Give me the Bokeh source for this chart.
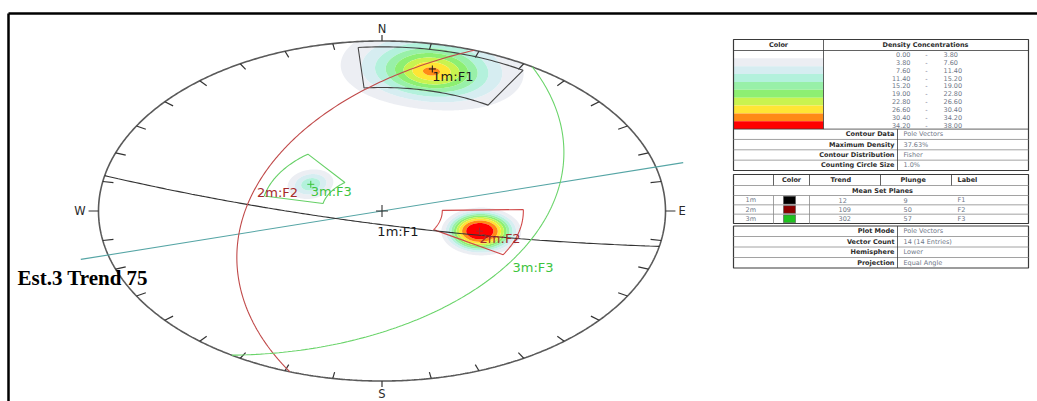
import numpy as np
from bokeh.plotting import figure
from bokeh.models import Range1d
from bokeh.embed import file_html
from bokeh.resources import INLINE
from bokeh.core.properties import value

# ---------------- data ----------------
set_names = ["1m", "2m", "3m"]
set_labels = ["F1", "F2", "F3"]
set_trend = [12, 109, 302]      # mean pole trend
set_plunge = [9, 50, 57]        # mean pole plunge

# set windows (trend range, plunge range)
window_trend = [[355, 31], [89, 121], [282, 322]]
window_plunge = [[2, 18], [37, 66], [44, 66]]

# contour bands (% of total per 1% area)
density_levels = [0.00, 3.80, 7.60, 11.40, 15.20, 19.00, 22.80, 26.60, 30.40, 34.20, 38.00]

# pole concentrations: centre, peak density, reach of the lowest contour (deg), profile shape
cluster_trend = [12, 109, 302]
cluster_plunge = [10, 50, 57]
cluster_peak = [32.0, 37.63, 14.5]
cluster_reach_t = [21.0, 14.0, 9.5]
cluster_reach_p = [16.5, 14.0, 8.0]
cluster_shape = [1.6, 3.0, 2.0]

section_trend = 75
title_text = "Est.3 Trend 75"
cardinals = ["N", "E", "S", "W"]
cardinal_az = [0, 90, 180, 270]

contour_keys = ["Contour Data", "Maximum Density", "Contour Distribution", "Counting Circle Size"]
contour_vals = ["Pole Vectors", "37.63%", "Fisher", "1.0%"]
plot_keys = ["Plot Mode", "Vector Count", "Hemisphere", "Projection"]
plot_vals = ["Pole Vectors", "14 (14 Entries)", "Lower", "Equal Angle"]

# ---------------- styles ----------------
band_colors = ["#ffffff", "#eceef3", "#d6edf1", "#b3f1dc", "#98f0a8",
               "#8def72", "#c9f34f", "#ffe534", "#ff8a16", "#ff0000"]
swatch_colors = ["#000000", "#8b0000", "#1fc21f"]
gc_colors = ["#333333", "#c04a4a", "#6ad46a"]
label_colors = ["#1a1a1a", "#a52a2a", "#3cc43c"]
window_colors = ["#444444", "#d04848", "#66d066"]
FONT = value("DejaVu Sans")

W, H = 1037, 401
CX, CY = 381.5, 210.5     # net centre (px)
RX, RY = 283.5, 170.0     # net radii (px)


def unit_vec(trend, plunge):
    t, p = np.radians(trend), np.radians(plunge)
    return np.array([np.cos(p) * np.sin(t), np.cos(p) * np.cos(t), -np.sin(p)])


def to_px(u, v):
    return CX + RX * np.asarray(u), CY - RY * np.asarray(v)


def proj(trend, plunge):
    t = np.radians(np.asarray(trend, dtype=float))
    p = np.radians(np.asarray(plunge, dtype=float))
    r = np.tan(np.pi / 4 - p / 2)
    return to_px(r * np.sin(t), r * np.cos(t))


def great_circle(trend, plunge, n=181):
    dd = np.radians(trend + 180.0)
    dip = np.radians(90.0 - plunge)
    s = np.array([np.sin(dd - np.pi / 2), np.cos(dd - np.pi / 2), 0.0])
    d = np.array([np.cos(dip) * np.sin(dd), np.cos(dip) * np.cos(dd), -np.sin(dip)])
    th = np.linspace(0, np.pi, n)
    v = np.outer(np.cos(th), s) + np.outer(np.sin(th), d)
    x, y = to_px(v[:, 0] / (1 - v[:, 2]), v[:, 1] / (1 - v[:, 2]))
    dx, dy = to_px(d[0] / (1 - d[2]), d[1] / (1 - d[2]))
    return x, y, float(dx), float(dy)


def window_outline(tr, pl, n=40):
    t1, t2 = tr
    if t2 < t1:
        t2 += 360
    ts = np.linspace(t1, t2, n)
    x1, y1 = proj(ts, np.full(n, pl[0]))
    x2, y2 = proj(ts[::-1], np.full(n, pl[1]))
    xs = np.concatenate([x1, x2, x1[:1]])
    ys = np.concatenate([y1, y2, y1[:1]])
    return xs, ys


p = figure(width=W, height=H, x_range=Range1d(0, W), y_range=Range1d(H, 0),
           output_backend="svg", toolbar_location=None, min_border=0,
           x_axis_location=None, y_axis_location=None)
p.grid.visible = False
p.outline_line_color = None
p.background_fill_color = "white"

# ---------------- density contours ----------------
g = np.linspace(-1, 1, 461)
U, V = np.meshgrid(g, g)
R2 = U ** 2 + V ** 2
den = 1 + R2
vx, vy, vz = 2 * U / den, 2 * V / den, -(1 - R2) / den
Z = np.zeros_like(U)
low = density_levels[1]
for tr, pl, pk, rt, rp, k in zip(cluster_trend, cluster_plunge, cluster_peak,
                                 cluster_reach_t, cluster_reach_p, cluster_shape):
    m = unit_vec(tr, pl)
    t, pr = np.radians(tr), np.radians(pl)
    et = np.array([np.cos(t), -np.sin(t), 0.0])
    ep = np.array([-np.sin(pr) * np.sin(t), -np.sin(pr) * np.cos(t), -np.cos(pr)])
    c = vx * m[0] + vy * m[1] + vz * m[2]
    at = vx * et[0] + vy * et[1] + vz * et[2]
    ap = vx * ep[0] + vy * ep[1] + vz * ep[2]
    q = np.sqrt((at / np.radians(rt)) ** 2 + (ap / np.radians(rp)) ** 2)
    dens = pk * np.exp(-np.log(pk / low) * q ** k)
    Z += np.where(c > 0, dens, 0.0)
Z[R2 > 1] = 0.0
GX, GY = to_px(U, V)
p.contour(GX, GY, Z, levels=density_levels[1:], fill_color=band_colors[1:], line_color=None)

# ---------------- net outline & ticks ----------------
az = np.linspace(0, 2 * np.pi, 721)
ox, oy = to_px(np.sin(az), np.cos(az))
p.line(ox, oy, line_color="#5a5a5a", line_width=1.6)

tick_deg = np.arange(0, 360, 10)
tick_az = np.radians(tick_deg)
is_card = (tick_deg % 90) == 0
r_out = np.where(is_card, 1.035, 0.962)
tx0, ty0 = to_px(np.sin(tick_az), np.cos(tick_az))
tx1, ty1 = to_px(r_out * np.sin(tick_az), r_out * np.cos(tick_az))
p.segment(tx0, ty0, tx1, ty1, line_color="#333333", line_width=1.2)

# cardinal labels
ca = np.radians(cardinal_az)
lx, ly = to_px(1.035 * np.sin(ca), 1.035 * np.cos(ca))
offs = [(0, 1, "center", "bottom"), (3, 0, "left", "middle"),
        (0, 0, "center", "top"), (-3, 0, "right", "middle")]
for lab, x0, y0, (dx, dy, al, bl) in zip(cardinals, lx, ly, offs):
    p.text([x0 + dx], [y0 + dy], text=[lab], text_font=FONT, text_font_size="11.5px",
           text_color="#2a2a2a", text_align=al, text_baseline=bl)

# section line along trend
st_r = np.radians(section_trend)
sx, sy = to_px([-1.1 * np.sin(st_r), 1.1 * np.sin(st_r)], [-1.1 * np.cos(st_r), 1.1 * np.cos(st_r)])
p.line(sx, sy, line_color="#55a5a5", line_width=1.1)

# centre cross
p.scatter([CX], [CY], marker="cross", size=12, line_color="#333333", line_width=1.1)

# ---------------- windows, great circles, poles ----------------
for i in range(3):
    wx, wy = window_outline(window_trend[i], window_plunge[i])
    p.line(wx, wy, line_color=window_colors[i], line_width=1.1)

for i in range(3):
    gx, gy, dx, dy = great_circle(set_trend[i], set_plunge[i])
    p.line(gx, gy, line_color=gc_colors[i], line_width=1.1)
    p.text([dx], [dy], text=[f"{set_names[i]}:{set_labels[i]}"], text_font=FONT,
           text_font_size="13px", text_color=label_colors[i], text_align="left",
           text_baseline="top")

px_, py_ = proj(set_trend, set_plunge)
for i in range(3):
    p.scatter([px_[i]], [py_[i]], marker="cross", size=7, line_color=label_colors[i], line_width=1)
    p.text([px_[i]], [py_[i]], text=[f"{set_names[i]}:{set_labels[i]}"], text_font=FONT,
           text_font_size="13px", text_color=label_colors[i], text_align="left",
           text_baseline="top")

# title
p.text([17], [277.5], text=[title_text], text_font=value("Liberation Serif"),
       text_font_size="21px", text_font_style="bold", text_color="#000000",
       text_baseline="alphabetic")

# page frame
p.segment([8, 8], [13, 13], [8, W], [H, 13], line_color="#000000", line_width=2.5)

# ---------------- legend tables ----------------
TL, TR = 733, 1028
SM = "6.5px"
KEY_C = "#2b2b2b"
VAL_C = "#6f7888"
BORDER = "#3a3a3a"
INNER = "#8a8a8a"


def box(x0, x1, y0, y1):
    p.quad(left=[x0], right=[x1], top=[y0], bottom=[y1], fill_color=None,
           line_color=BORDER, line_width=1.2)


def hlines(ys, x0=TL, x1=TR, color=INNER):
    p.segment([x0] * len(ys), ys, [x1] * len(ys), ys, line_color=color, line_width=0.8)


def vlines(xs, y0, y1, color=INNER):
    p.segment(xs, [y0] * len(xs), xs, [y1] * len(xs), line_color=color, line_width=0.8)


def txt(xs, ys, texts, color, align="left", bold=False):
    p.text(xs, ys, text=texts, text_font=FONT, text_font_size=SM, text_color=color,
           text_align=align, text_baseline="middle",
           text_font_style="bold" if bold else "normal")


# table 1: density bands + contour info
t1_top, head_b = 39, 50
nb = len(density_levels) - 1
row_h = 7.86
band_top = head_b + np.arange(nb) * row_h
band_bot = band_top + row_h
band_end = float(band_bot[-1])
p.quad(left=[TL] * nb, right=[823] * nb, top=list(band_top), bottom=list(band_bot),
       fill_color=band_colors, line_color=None)
t1_bot = 170
box(TL, TR, t1_top, t1_bot)
hlines([head_b, band_end], color=BORDER)
vlines([823], t1_top, band_end, color=BORDER)
txt([778], [44.5], ["Color"], KEY_C, "center", True)
txt([925], [44.5], ["Density Concentrations"], KEY_C, "center", True)
mid = list(band_top + row_h / 2)
txt([910] * nb, mid, [f"{v:.2f}" for v in density_levels[:-1]], VAL_C, "right")
txt([926] * nb, mid, ["-"] * nb, VAL_C, "center")
txt([943] * nb, mid, [f"{v:.2f}" for v in density_levels[1:]], VAL_C, "left")

ci_h = (t1_bot - band_end) / len(contour_keys)
ci_top = band_end + np.arange(len(contour_keys)) * ci_h
hlines(list(ci_top[1:]))
vlines([897], band_end, t1_bot, color=BORDER)
txt([894] * 4, list(ci_top + ci_h / 2), contour_keys, KEY_C, "right", True)
txt([903] * 4, list(ci_top + ci_h / 2), contour_vals, VAL_C, "left")

# table 2: mean set planes
t2_top, t2_head, t2_sub, t2_bot = 174, 185, 195, 223
box(TL, TR, t2_top, t2_bot)
hlines([t2_head, t2_sub])
vlines([773, 809, 880, 951], t2_top, t2_head, color=BORDER)
txt([791], [179.5], ["Color"], KEY_C, "center", True)
txt([830], [179.5], ["Trend"], KEY_C, "left", True)
txt([900], [179.5], ["Plunge"], KEY_C, "left", True)
txt([957], [179.5], ["Label"], KEY_C, "left", True)
txt([882], [190], ["Mean Set Planes"], KEY_C, "center", True)
sr_h = (t2_bot - t2_sub) / 3
sr_top = t2_sub + np.arange(3) * sr_h
sr_mid = list(sr_top + sr_h / 2)
hlines(list(sr_top[1:]))
vlines([773, 809], t2_sub, t2_bot)
p.quad(left=[783] * 3, right=[795] * 3, top=list(sr_top + 0.8), bottom=list(sr_top + sr_h - 0.8),
       fill_color=swatch_colors, line_color="#555555", line_width=0.6)
txt([745] * 3, sr_mid, set_names, VAL_C, "left")
txt([838] * 3, sr_mid, [str(v) for v in set_trend], VAL_C, "left")
txt([903] * 3, sr_mid, [str(v) for v in set_plunge], VAL_C, "left")
txt([957] * 3, sr_mid, set_labels, VAL_C, "left")

# table 3: plot info
t3_top, t3_bot = 225.5, 267.5
box(TL, TR, t3_top, t3_bot)
pi_h = (t3_bot - t3_top) / 4
pi_top = t3_top + np.arange(4) * pi_h
hlines(list(pi_top[1:]))
vlines([897], t3_top, t3_bot, color=BORDER)
txt([894] * 4, list(pi_top + pi_h / 2), plot_keys, KEY_C, "right", True)
txt([903] * 4, list(pi_top + pi_h / 2), plot_vals, VAL_C, "left")

open("out.html", "w").write(file_html(p, INLINE))
